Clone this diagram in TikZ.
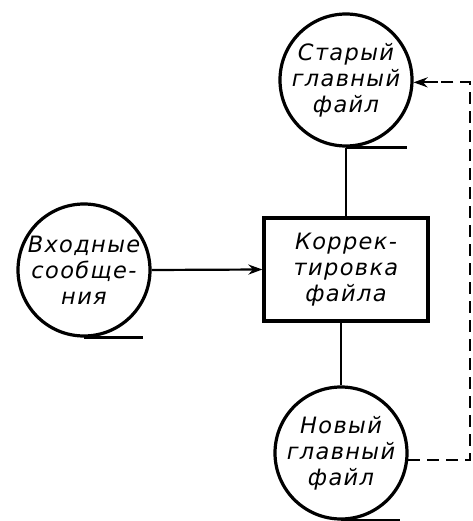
\documentclass[tikz,border=0pt]{standalone}
\usepackage{fontspec}
\setmainfont{DejaVu Sans}
\newfontfamily\gostfont[LetterSpace=6]{DejaVu Sans}
\usetikzlibrary{arrows.meta}
\begin{document}
\begin{tikzpicture}[x=1pt,y=-1pt,
  store/.style={circle,draw,line width=3.2pt,minimum size=132pt,inner sep=0pt,align=center,
    font=\gostfont\fontsize{22.5}{26}\selectfont\itshape},
  proc/.style={draw,line width=3.2pt,minimum width=164pt,minimum height=103pt,inner sep=0pt,align=center,
    font=\gostfont\fontsize{22.5}{26}\selectfont\itshape},
  link/.style={line width=2.2pt},
  tail/.style={line width=3.2pt},
  flow/.style={line width=2.2pt,-{Stealth[length=14pt,width=10pt]}},
  dflow/.style={line width=2.2pt,dash pattern=on 12pt off 7pt}]
\useasboundingbox (0,0) rectangle (472,521);
\node[store] (old) at (346,80) {Старый\\главный\\файл};
\node[store] (inp) at (84,270) {Входные\\сообще-\\ния};
\node[proc] (upd) at (346,269.5) {Коррек-\\тировка\\файла};
\node[store] (new) at (341,453) {Новый\\главный\\файл};
% tails
\draw[tail] (old.south) -- ++(61,0) coordinate (oldt);
\draw[tail] (inp.south) -- ++(59,0) coordinate (inpt);
\draw[tail] (new.south) -- ++(59,0) coordinate (newt);
% connectors
\draw[link] (old.south) -- (upd.north);
\draw[flow] (inp.east) -- (upd.west);
\draw[link] (upd.south -| new.north) -- (new.north);
% dashed feedback
\coordinate (ne) at (new.-6);
\coordinate (oe) at (old.-2);
\coordinate (c1) at (470,0);
\draw[dflow] (ne) -- (ne -| c1) -- (oe -| c1) -- ([xshift=24pt]oe);
\draw[flow] ([xshift=24pt]oe) -- (oe);
\end{tikzpicture}
\end{document}
